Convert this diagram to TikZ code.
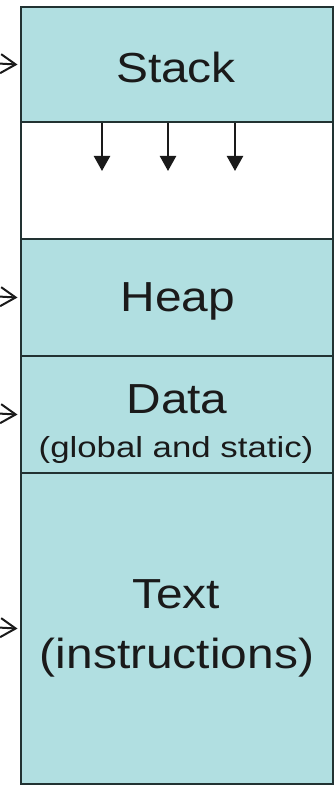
\documentclass[tikz,border=0pt]{standalone}
\usepackage{fontspec}
\setmainfont{Liberation Sans}
\usetikzlibrary{arrows.meta}
\definecolor{segfill}{HTML}{B1DFE1}
\definecolor{segline}{HTML}{223232}
\definecolor{inkdark}{HTML}{1A1A1A}
\begin{document}
\begin{tikzpicture}[x=1pt,y=1pt,
  seg/.style={draw=segline, line width=2.4pt, fill=segfill, minimum width=312pt,
              inner sep=0pt, anchor=north west},
  gapseg/.style={seg, fill=white},
  seglabel/.style={anchor=base, text=inkdark, font=\fontsize{42}{46}\selectfont,
                inner sep=0pt, xscale=1.14, transform shape},
  segnote/.style={seglabel, font=\fontsize{29}{33}\selectfont, xscale=1.2/1.14},
  inarrow/.style={draw=inkdark, line width=2pt, shorten >=2.5pt,
                  -{Straight Barb[length=15pt,width=19pt]}},
  growarrow/.style={draw=inkdark, line width=2.3pt, -{Triangle[length=15pt,width=16pt]}}]
\useasboundingbox (0,0) rectangle (335,-786);

% memory segments, top to bottom
\node[seg, minimum height=115pt] (stack) at (20,-6) {};
\node[gapseg, minimum height=117pt] (free) at (20,-121) {};
\node[seg, minimum height=117pt] (heap) at (20,-238) {};
\node[seg, minimum height=117pt] (data) at (20,-355) {};
\node[seg, minimum height=311pt] (text) at (20,-472) {};

% segment labels
\node[seglabel] (stacklbl) at (176,-83) {Stack};
\node[seglabel] (heaplbl) at (178,-311) {Heap};
\node[seglabel] (datalbl) at (177,-413) {Data};
\node[segnote] (datasub) at (176,-457) {(global and static)};
\node[seglabel] (textlbl) at (176,-608) {Text};
\node[seglabel] (textsub) at (177,-668) {(instructions)};

% stack growth arrows
\coordinate (g1) at (102,-171);
\coordinate (g2) at (168,-171);
\coordinate (g3) at (235,-171);
\foreach \g in {g1,g2,g3}
  \draw[growarrow] (\g |- stack.south) -- (\g);

% pointers coming in from the left
\coordinate (p1) at (-2,-63.5);
\coordinate (p2) at (-2,-296.5);
\coordinate (p3) at (-2,-413.5);
\coordinate (p4) at (-2,-627.5);
\draw[inarrow] (p1) -- (stack.west);
\draw[inarrow] (p2) -- (heap.west);
\draw[inarrow] (p3) -- (data.west);
\draw[inarrow] (p4) -- (text.west);
\end{tikzpicture}
\end{document}
